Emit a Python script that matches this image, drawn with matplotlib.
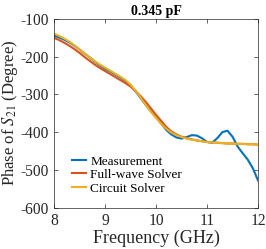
import matplotlib.pyplot as plt

# Data
freq = [8.0, 8.1, 8.2, 8.3, 8.4, 8.5, 8.6, 8.7, 8.8, 8.9,
        9.0, 9.1, 9.2, 9.3, 9.4, 9.5, 9.6, 9.7, 9.8, 9.9,
        10.0, 10.1, 10.2, 10.3, 10.4, 10.5, 10.6, 10.7, 10.8, 10.9,
        11.0, 11.1, 11.2, 11.3, 11.4, 11.5, 11.6, 11.7, 11.8, 11.9, 12.0]
measurement = [-144, -149, -155, -162, -171, -181, -192, -202, -213, -223,
               -232, -239, -247, -255, -264, -276, -292, -310, -328, -345,
               -360, -377, -394, -406, -414, -417, -413, -408, -409, -416,
               -426, -428, -416, -400, -396, -412, -438, -456, -473, -496, -528]
fullwave = [-150, -156, -163, -171, -180, -190, -201, -211, -221, -230,
            -238, -246, -254, -262, -270, -279, -291, -305, -320, -337,
            -354, -370, -386, -398, -406, -412, -416, -419, -422, -424,
            -426, -427, -428, -429, -430, -430, -431, -431, -432, -432, -433]
circuit = [-139, -145, -152, -160, -170, -181, -192, -202, -212, -221,
           -229, -237, -245, -253, -262, -274, -290, -309, -328, -346,
           -362, -378, -391, -401, -408, -413, -417, -420, -422, -424,
           -426, -427, -428, -429, -430, -430, -431, -431, -432, -432, -433]

plt.rcParams['font.family'] = 'Liberation Serif'
plt.rcParams['mathtext.fontset'] = 'stix'

fig = plt.figure(figsize=(2.66, 2.49), dpi=100)
ax = fig.add_axes([0.203, 0.166, 0.767, 0.758])

ax.plot(freq, measurement, color='#0072BD', lw=1.5, label='Measurement')
ax.plot(freq, fullwave, color='#D95319', lw=1.5, label='Full-wave Solver')
ax.plot(freq, circuit, color='#EDB120', lw=1.5, label='Circuit Solver')

ax.set_xlim(8, 12)
ax.set_ylim(-600, -100)
ax.set_xticks([8, 9, 10, 11, 12])
ax.set_yticks([-600, -500, -400, -300, -200, -100])
ax.set_yticklabels(['-600', '-500', '-400', '-300', '-200', '-100'])
ax.tick_params(direction='in', top=True, right=True, labelsize=11.2,
               length=3, width=0.5, color='#262626', labelcolor='#262626')
for s in ax.spines.values():
    s.set_linewidth(0.5)
    s.set_color('#262626')

ax.set_xlabel('Frequency (GHz)', fontsize=13, color='#262626', labelpad=1)
ax.set_ylabel('Phase of $S_{21}$ (Degree)', fontsize=12, color='#262626', labelpad=0.5)
ax.set_title('0.345 pF', fontsize=10, fontweight='bold', pad=3)

ax.legend(loc='lower left', bbox_to_anchor=(0.045, 0.02), frameon=False,
          fontsize=9.5, handlelength=1.0, handletextpad=0.35,
          labelspacing=0.1, borderaxespad=0.3)

fig.savefig('out.png', dpi=100)
